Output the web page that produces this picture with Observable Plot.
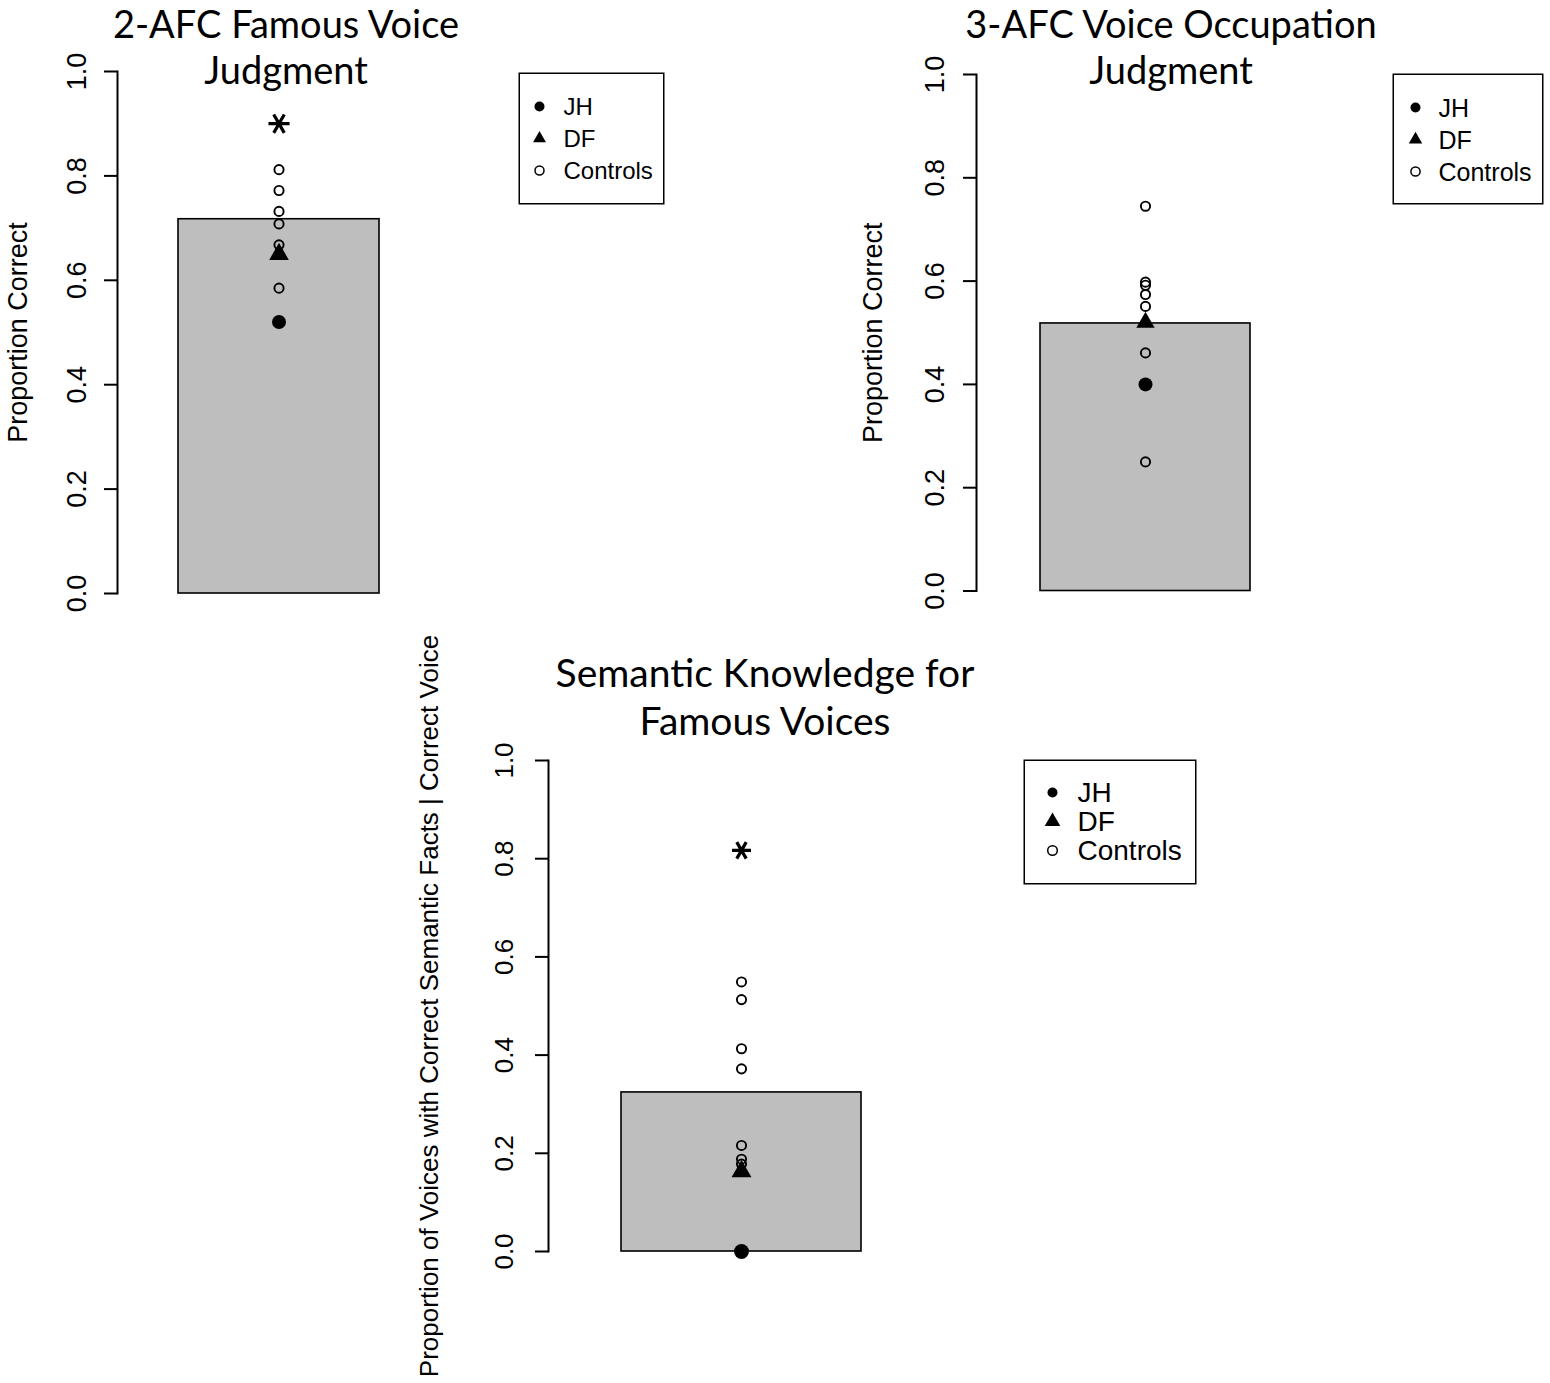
<!DOCTYPE html>
<html>
<head>
<meta charset="utf-8">
<script src="https://cdn.jsdelivr.net/npm/d3@7"></script>
<script src="https://cdn.jsdelivr.net/npm/@observablehq/plot@0.6"></script>
<style>
  html, body { margin: 0; padding: 0; background: white; }
  #root { position: relative; width: 1550px; height: 1383px; overflow: hidden; background: white; }
  .abs { position: absolute; }
  .title { position: absolute; width: 700px; text-align: center; font-family: Lato, "Open Sans", sans-serif; color: black; white-space: nowrap; }
</style>
</head>
<body>
<div id="root"></div>
<script>
// ---- data ----
const panelNames = ["2-AFC Famous Voice Judgment", "3-AFC Voice Occupation Judgment", "Semantic Knowledge for Famous Voices"];
const titleLines = [["2-AFC Famous Voice", "Judgment"], ["3-AFC Voice Occupation", "Judgment"], ["Semantic Knowledge for", "Famous Voices"]];
const yLabels = ["Proportion Correct", "Proportion Correct", "Proportion of Voices with Correct Semantic Facts | Correct Voice"];
const barMeans = [0.717, 0.518, 0.324];
const jhScores = [0.52, 0.40, 0.0];
const dfScores = [0.65, 0.52, 0.163];
const controls1 = [0.812, 0.772, 0.732, 0.708, 0.668, 0.585];
const controls2 = [0.745, 0.598, 0.592, 0.574, 0.551, 0.461, 0.25];
const controls3 = [0.549, 0.513, 0.413, 0.372, 0.216, 0.188, 0.178];
const starMarks = [0.90, null, 0.817];
const yTicks = [0, 0.2, 0.4, 0.6, 0.8, 1.0];
const legendLabels = ["JH", "DF", "Controls"];
const controlsByPanel = [controls1, controls2, controls3];

// ---- layout (pixels) ----
const layouts = [
  {left: 0, top: 0, width: 470, height: 640, mt: 71, mb: 47, ml: 117, mr: 29, tickPad: 19, tickFs: 27, labelDx: -91, labelFs: 27, jhR: 7, dfR: 7.3, cR: 4.6, starR: 10,
   titleX: 286, titleTop: 0, titleLH: 46, titleFs: 38,
   legend: {left: 518, top: 72, width: 146, height: 132, symX: 21, y1: 33, y3: 98, textX: 45, fs: 24, rJH: 5, rDF: 4.8, rC: 4.5}},
  {left: 850, top: 0, width: 500, height: 640, mt: 74, mb: 49.5, ml: 126, mr: 36, tickPad: 20, tickFs: 27, labelDx: -95, labelFs: 27, jhR: 7, dfR: 6.8, cR: 4.6, starR: 10,
   titleX: 1171, titleTop: 0, titleLH: 46, titleFs: 38,
   legend: {left: 1392, top: 73, width: 151, height: 131, symX: 23, y1: 33, y3: 98, textX: 46, fs: 25, rJH: 5, rDF: 5, rC: 4.6}},
  {left: 400, top: 640, width: 560, height: 660, mt: 120, mb: 49, ml: 148, mr: 26, tickPad: 23, tickFs: 26, labelDx: -111, labelFs: 26, jhR: 7.5, dfR: 7.4, cR: 4.6, starR: 9,
   titleX: 765, titleTop: 648, titleLH: 48, titleFs: 39,
   legend: {left: 1023, top: 759, width: 173, height: 125, symX: 29, y1: 33, y3: 91, textX: 54, fs: 28, rJH: 5, rDF: 5.8, rC: 4.8}}
];

const root = document.getElementById("root");
const font = "'Liberation Sans', Arial, Helvetica, sans-serif";

function place(node, left, top, width, height) {
  const div = document.createElement("div");
  div.className = "abs";
  div.style.left = left + "px";
  div.style.top = top + "px";
  div.style.width = width + "px";
  div.style.height = height + "px";
  div.appendChild(node);
  root.appendChild(div);
}

panelNames.forEach((cat, i) => {
  const L = layouts[i];
  const marks = [
    Plot.barY([barMeans[i]], {x: () => cat, y: d => d, fill: "#bebebe", stroke: "black", strokeWidth: 1.6}),
    Plot.frame({anchor: "left", stroke: "black", strokeWidth: 2}),
    Plot.axisY({ticks: yTicks, tickSize: 13, tickPadding: L.tickPad, tickRotate: -90, tickFormat: d3.format(".1f"), fontSize: L.tickFs, label: null, strokeWidth: 2}),
    Plot.text([yLabels[i]], {frameAnchor: "left", rotate: -90, dx: L.labelDx, textAnchor: "middle", lineAnchor: "bottom", fontSize: L.labelFs, text: d => d}),
    Plot.dot([dfScores[i]], {x: () => cat, y: d => d, symbol: "triangle", r: L.dfR, fill: "black"}),
    Plot.dot([jhScores[i]], {x: () => cat, y: d => d, r: L.jhR, fill: "black"}),
    Plot.dot(controlsByPanel[i], {x: () => cat, y: d => d, r: L.cR, stroke: "black", strokeWidth: 1.9, fill: "none"})
  ];
  if (starMarks[i] != null) {
    marks.push(Plot.dot([starMarks[i]], {x: () => cat, y: d => d, symbol: "asterisk", r: L.starR, stroke: "black", strokeWidth: 3.2, rotate: 90}));
  }
  const chart = Plot.plot({
    width: L.width, height: L.height,
    marginTop: L.mt, marginBottom: L.mb, marginLeft: L.ml, marginRight: L.mr,
    x: {type: "band", domain: [cat], padding: 0.232, axis: null},
    y: {domain: [0, 1], axis: null},
    style: {fontFamily: font, background: "transparent", overflow: "visible", color: "black"},
    marks
  });
  place(chart, L.left, L.top, L.width, L.height);

  // title
  const t = document.createElement("div");
  t.className = "title";
  t.style.left = (L.titleX - 350) + "px";
  t.style.top = L.titleTop + "px";
  t.style.lineHeight = L.titleLH + "px";
  t.style.fontSize = L.titleFs + "px";
  t.innerHTML = titleLines[i].join("<br>");
  root.appendChild(t);

  // legend
  const G = L.legend;
  const leg = Plot.plot({
    width: G.width, height: G.height,
    margin: 0,
    y: {type: "point", domain: legendLabels, range: [G.y1, G.y3], padding: 0, axis: null},
    style: {fontFamily: font, background: "white", overflow: "visible", color: "black"},
    marks: [
      Plot.frame({stroke: "black", strokeWidth: 1.5, inset: 0.75}),
      Plot.dot([legendLabels[0]], {y: d => d, frameAnchor: "left", dx: G.symX, r: G.rJH, fill: "black"}),
      Plot.dot([legendLabels[1]], {y: d => d, frameAnchor: "left", dx: G.symX, r: G.rDF, fill: "black", symbol: "triangle"}),
      Plot.dot([legendLabels[2]], {y: d => d, frameAnchor: "left", dx: G.symX, r: G.rC, stroke: "black", strokeWidth: 1.5, fill: "none"}),
      Plot.text(legendLabels, {y: d => d, text: d => d, frameAnchor: "left", dx: G.textX, dy: 1, textAnchor: "start", fontSize: G.fs, fill: "black"})
    ]
  });
  place(leg, G.left, G.top, G.width, G.height);
});
</script>
</body>
</html>
